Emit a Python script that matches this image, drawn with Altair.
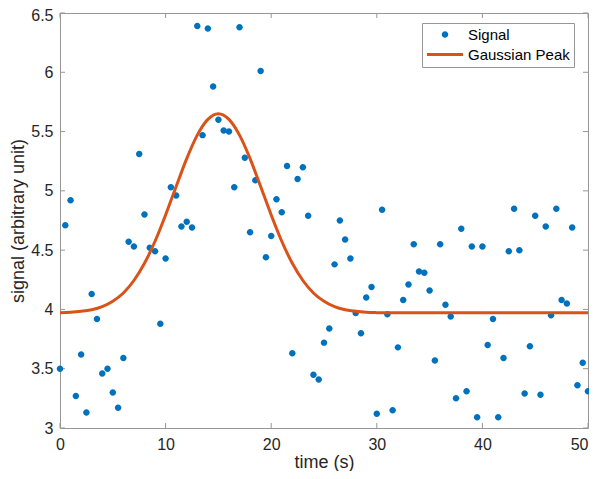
import altair as alt
import pandas as pd

# ---- data ----
time_s = [0, 0.5, 1, 1.5, 2, 2.5, 3, 3.5, 4, 4.5, 5, 5.5, 6, 6.5, 7, 7.5, 8, 8.5, 9, 9.5,
          10, 10.5, 11, 11.5, 12, 12.5, 13, 13.5, 14, 14.5, 15, 15.5, 16, 16.5, 17, 17.5,
          18, 18.5, 19, 19.5, 20, 20.5, 21, 21.5, 22, 22.5, 23, 23.5, 24, 24.5, 25, 25.5,
          26, 26.5, 27, 27.5, 28, 28.5, 29, 29.5, 30, 30.5, 31, 31.5, 32, 32.5, 33, 33.5,
          34, 34.5, 35, 35.5, 36, 36.5, 37, 37.5, 38, 38.5, 39, 39.5, 40, 40.5, 41, 41.5,
          42, 42.5, 43, 43.5, 44, 44.5, 45, 45.5, 46, 46.5, 47, 47.5, 48, 48.5, 49, 49.5, 50]
signal = [3.50, 4.71, 4.92, 3.27, 3.62, 3.13, 4.13, 3.92, 3.46, 3.50, 3.30, 3.17, 3.59,
          4.57, 4.53, 5.31, 4.80, 4.52, 4.49, 3.88, 4.43, 5.03, 4.96, 4.70, 4.74, 4.69,
          6.39, 5.47, 6.37, 5.88, 5.60, 5.51, 5.50, 5.03, 6.38, 5.28, 4.65, 5.09, 6.01,
          4.44, 4.62, 4.93, 4.82, 5.21, 3.63, 5.10, 5.20, 4.79, 3.45, 3.41, 3.72, 3.84,
          4.38, 4.75, 4.59, 4.43, 3.97, 3.80, 4.10, 4.19, 3.12, 4.84, 3.96, 3.15, 3.68,
          4.08, 4.21, 4.55, 4.32, 4.31, 4.16, 3.57, 4.55, 4.04, 3.94, 3.25, 4.68, 3.31,
          4.53, 3.09, 4.53, 3.70, 3.92, 3.09, 3.59, 4.49, 4.85, 4.50, 3.29, 3.69, 4.79,
          3.28, 4.70, 3.95, 4.85, 4.08, 4.05, 4.69, 3.36, 3.55, 3.31]

fit_time = [0, 1, 2, 3, 4, 5, 6, 7, 8, 9, 10, 11, 12, 13, 14, 15, 16, 17, 18, 19, 20,
            21, 22, 23, 24, 25, 26, 27, 28, 29, 30, 31, 32, 33, 34, 35, 36, 37, 38, 39,
            40, 41, 42, 43, 44, 45, 46, 47, 48, 49, 50]
fit_signal = [3.973, 3.976, 3.984, 3.998, 4.024, 4.069, 4.139, 4.244, 4.389, 4.575,
              4.797, 5.037, 5.272, 5.470, 5.603, 5.650, 5.603, 5.470, 5.272, 5.037,
              4.797, 4.575, 4.389, 4.244, 4.139, 4.069, 4.024, 3.998, 3.984, 3.976,
              3.973, 3.972, 3.971, 3.971, 3.971, 3.971, 3.971, 3.971, 3.971, 3.971,
              3.971, 3.971, 3.971, 3.971, 3.971, 3.971, 3.971, 3.971, 3.971, 3.971, 3.971]

series_names = ["Signal", "Gaussian Peak"]
series_colors = ["#0072BD", "#D95319"]

x_ticks = [0, 10, 20, 30, 40, 50]
y_ticks = [3, 3.5, 4, 4.5, 5, 5.5, 6, 6.5]

pts = pd.DataFrame({"t": time_s, "signal": signal, "series": "Signal"})
fit = pd.DataFrame({"t": fit_time, "signal": fit_signal})
xt = pd.DataFrame({"t": x_ticks})
yt = pd.DataFrame({"signal": y_ticks})

W, H = 528, 415
FONT = "Liberation Sans"
TXT = "#262626"
GRID = "#969696"

xscale = alt.Scale(domain=[0, 50], nice=False, zero=False)
yscale = alt.Scale(domain=[3, 6.5], nice=False, zero=False)
xaxis = alt.Axis(values=x_ticks, ticks=False, domain=False, grid=False, labelFlush=False,
                 labelAlign={"condition": {"test": "datum.value == 50", "value": "right"},
                             "value": "center"},
                 labelFontSize=16, labelFont=FONT, labelColor=TXT, labelPadding=8,
                 title="time (s)", titleFontSize=18, titleFont=FONT, titleColor=TXT,
                 titleFontWeight="normal", titlePadding=1)
yaxis = alt.Axis(values=y_ticks, ticks=False, domain=False, grid=False, labelFlush=False,
                 labelOffset={"condition": {"test": "datum.value == 6.5", "value": 2},
                              "value": 0},
                 format=".1~f", labelFontSize=16, labelFont=FONT, labelColor=TXT,
                 labelPadding=7, title="signal (arbitrary unit)", titleFontSize=18,
                 titleFont=FONT, titleColor=TXT, titleFontWeight="normal", titlePadding=3)

X = alt.X("t:Q", scale=xscale, axis=xaxis)
Y = alt.Y("signal:Q", scale=yscale, axis=yaxis)

SYM = 1296  # symbol box 36 px wide
legend = alt.Legend(title=None, orient="none", legendX=362, legendY=10,
                    fillColor="white", strokeColor=GRID, padding=4, rowPadding=4,
                    symbolOffset=1, labelOffset=5, labelFontSize=15, labelFont=FONT,
                    labelColor="#000000", symbolSize=SYM, clipHeight=15,
                    symbolStrokeWidth=0, cornerRadius=0)

# legend glyphs: a small dot and a short thick line, both spanning the same box
dot_path = "M-1,0M1,0M0.18,0A0.18,0.18,0,1,1,-0.18,0A0.18,0.18,0,1,1,0.18,0Z"
line_path = "M-1,-0.083L1,-0.083L1,0.083L-1,0.083Z"

bottom_ticks = alt.Chart(xt).mark_rule(color=GRID, strokeWidth=1).encode(
    x=X, y=alt.value(H), y2=alt.value(H - 5))
top_ticks = alt.Chart(xt).mark_rule(color=GRID, strokeWidth=1).encode(
    x=X, y=alt.value(0), y2=alt.value(5))
left_ticks = alt.Chart(yt).mark_rule(color=GRID, strokeWidth=1).encode(
    y=Y, x=alt.value(0), x2=alt.value(5))
right_ticks = alt.Chart(yt).mark_rule(color=GRID, strokeWidth=1).encode(
    y=Y, x=alt.value(W), x2=alt.value(W - 5))

points = alt.Chart(pts).mark_point(filled=True, opacity=1, size=SYM).encode(
    x=X, y=Y,
    color=alt.Color("series:N", scale=alt.Scale(domain=series_names, range=series_colors),
                    legend=legend),
    shape=alt.Shape("series:N", scale=alt.Scale(domain=series_names,
                                                range=[dot_path, line_path]),
                    legend=legend),
)

curve = alt.Chart(fit).mark_line(color="#D95319", strokeWidth=3, interpolate="monotone").encode(
    x=X, y=Y)

chart = alt.layer(bottom_ticks, top_ticks, left_ticks, right_ticks, points, curve).properties(
    width=W, height=H,
    padding={"left": 52, "top": 5, "right": 1, "bottom": 43},
    autosize=alt.AutoSizeParams(type="none"),
    background="white",
).configure_view(stroke=GRID, strokeWidth=1)

chart.save("out.html", embed_options={"renderer": "svg", "actions": False})
